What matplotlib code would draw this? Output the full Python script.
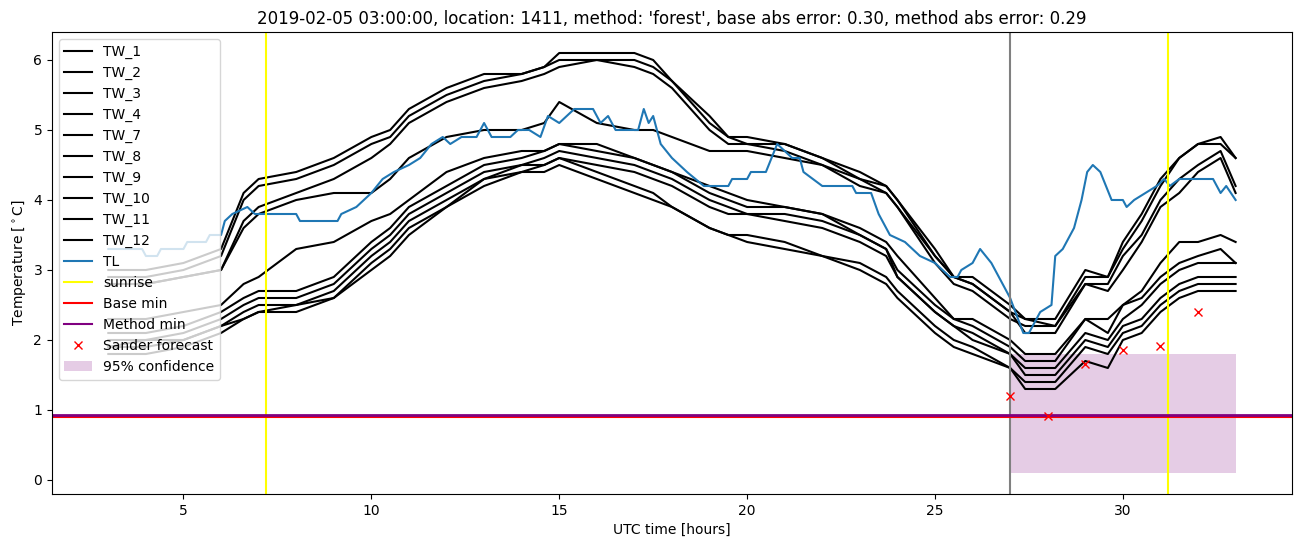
import matplotlib
matplotlib.use('Agg')
import matplotlib.pyplot as plt

tw_hours = [3, 4, 5, 6, 6.6, 7, 8, 9, 10, 10.5, 11, 12, 13, 14, 14.6, 15, 16, 17, 17.5, 18, 19, 19.5, 20, 21, 22,
            23, 23.7, 24, 25, 25.5, 26, 27, 27.4, 28.2, 29, 29.6, 30, 30.5, 31, 31.5, 32, 32.6, 33]

tw_names = ['TW_1', 'TW_2', 'TW_3', 'TW_4', 'TW_7', 'TW_8', 'TW_9', 'TW_10', 'TW_11', 'TW_12']

tw_1 = [3.0, 3.0, 3.1, 3.3, 4.1, 4.3, 4.4, 4.6, 4.9, 5.0, 5.3, 5.6, 5.8, 5.8, 5.9, 6.1, 6.1, 6.1, 6.0, 5.7, 5.2, 4.9,
        4.9, 4.8, 4.6, 4.4, 4.2, 4.0, 3.3, 2.9, 2.9, 2.5, 2.3, 2.3, 3.0, 2.9, 3.4, 3.8, 4.3, 4.6, 4.8, 4.9, 4.6]
tw_2 = [2.9, 2.9, 3.0, 3.2, 4.0, 4.2, 4.3, 4.5, 4.8, 4.9, 5.2, 5.5, 5.7, 5.8, 5.9, 6.0, 6.0, 6.0, 5.9, 5.7, 5.1, 4.9,
        4.8, 4.8, 4.6, 4.3, 4.2, 4.0, 3.2, 2.9, 2.8, 2.4, 2.3, 2.2, 2.9, 2.9, 3.3, 3.7, 4.2, 4.6, 4.8, 4.8, 4.6]
tw_3 = [2.8, 2.8, 2.9, 3.0, 3.7, 3.9, 4.1, 4.3, 4.6, 4.8, 5.1, 5.4, 5.6, 5.7, 5.8, 5.9, 6.0, 5.9, 5.8, 5.6, 5.0, 4.8,
        4.8, 4.7, 4.5, 4.3, 4.1, 3.9, 3.1, 2.8, 2.7, 2.3, 2.2, 2.2, 2.8, 2.8, 3.2, 3.5, 4.0, 4.3, 4.5, 4.7, 4.2]
tw_4 = [2.8, 2.8, 2.9, 3.0, 3.6, 3.8, 4.0, 4.1, 4.1, 4.3, 4.6, 4.9, 5.0, 5.0, 5.1, 5.4, 5.1, 5.0, 5.0, 4.9, 4.7, 4.7,
        4.7, 4.6, 4.5, 4.2, 4.1, 3.9, 3.2, 2.9, 2.8, 2.4, 2.1, 2.1, 2.8, 2.7, 3.0, 3.4, 3.9, 4.1, 4.4, 4.6, 4.1]
tw_7 = [2.3, 2.3, 2.4, 2.5, 2.8, 2.9, 3.3, 3.4, 3.7, 3.8, 4.0, 4.4, 4.6, 4.7, 4.7, 4.8, 4.8, 4.6, 4.5, 4.4, 4.2, 4.1,
        4.0, 3.9, 3.8, 3.6, 3.4, 3.2, 2.6, 2.3, 2.3, 2.0, 1.8, 1.8, 2.3, 2.3, 2.5, 2.7, 3.1, 3.4, 3.4, 3.5, 3.4]
tw_8 = [2.1, 2.1, 2.2, 2.4, 2.6, 2.7, 2.7, 2.9, 3.4, 3.6, 3.9, 4.2, 4.5, 4.6, 4.7, 4.8, 4.7, 4.6, 4.5, 4.4, 4.1, 4.0,
        3.9, 3.9, 3.8, 3.5, 3.3, 3.0, 2.5, 2.3, 2.2, 1.9, 1.7, 1.7, 2.3, 2.1, 2.5, 2.6, 2.9, 3.1, 3.2, 3.3, 3.1]
tw_9 = [2.0, 2.0, 2.1, 2.3, 2.5, 2.6, 2.6, 2.8, 3.3, 3.5, 3.8, 4.1, 4.4, 4.5, 4.6, 4.7, 4.6, 4.5, 4.4, 4.3, 4.0, 3.9,
        3.8, 3.8, 3.7, 3.5, 3.3, 2.9, 2.4, 2.2, 2.1, 1.8, 1.6, 1.6, 2.1, 2.0, 2.3, 2.5, 2.8, 3.0, 3.1, 3.1, 3.1]
tw_10 = [1.9, 2.0, 2.0, 2.2, 2.4, 2.5, 2.5, 2.7, 3.2, 3.4, 3.7, 4.0, 4.3, 4.5, 4.5, 4.6, 4.5, 4.4, 4.3, 4.2, 3.9, 3.8,
         3.8, 3.7, 3.6, 3.4, 3.2, 2.9, 2.4, 2.2, 2.0, 1.8, 1.5, 1.5, 2.0, 1.9, 2.2, 2.3, 2.6, 2.8, 2.9, 2.9, 2.9]
tw_11 = [1.9, 1.9, 2.0, 2.2, 2.3, 2.4, 2.5, 2.6, 3.1, 3.3, 3.6, 3.9, 4.3, 4.4, 4.5, 4.6, 4.4, 4.2, 4.1, 3.9, 3.6, 3.5,
         3.5, 3.4, 3.2, 3.1, 2.9, 2.7, 2.2, 2.0, 1.9, 1.6, 1.4, 1.4, 1.9, 1.8, 2.1, 2.2, 2.5, 2.7, 2.8, 2.8, 2.8]
tw_12 = [1.8, 1.8, 1.9, 2.1, 2.3, 2.4, 2.4, 2.6, 3.0, 3.2, 3.5, 3.9, 4.2, 4.4, 4.4, 4.5, 4.3, 4.1, 4.0, 3.9, 3.6, 3.5,
         3.4, 3.3, 3.2, 3.0, 2.8, 2.6, 2.1, 1.9, 1.8, 1.6, 1.3, 1.3, 1.7, 1.6, 2.0, 2.1, 2.4, 2.6, 2.7, 2.7, 2.7]
tw_values = [tw_1, tw_2, tw_3, tw_4, tw_7, tw_8, tw_9, tw_10, tw_11, tw_12]

# TL (blue) read at irregular times to keep the bumps
tl_hours = [3.0, 3.9, 4.0, 4.3, 4.4, 5.0, 5.1, 5.6, 5.7, 6.0, 6.1, 6.3, 6.7, 6.9, 8.0, 8.1, 9.1, 9.2, 9.6, 10.0, 10.3,
            10.6, 11.0, 11.3, 11.6, 11.9, 12.1, 12.4, 12.8, 13.0, 13.2, 13.7, 13.9, 14.2, 14.5, 14.7, 15.0, 15.2,
            15.4, 15.9, 16.1, 16.3, 16.5, 17.1, 17.25, 17.38, 17.5, 17.7, 18.0, 18.4, 18.85, 19.5, 19.6, 20.0, 20.1,
            20.5, 20.8, 21.2, 21.4, 21.5, 22.0, 22.8, 22.9, 23.3, 23.5, 23.8, 24.2, 24.6, 25.0, 25.4, 25.6, 25.7,
            26.0, 26.2, 26.5, 26.7, 27.0, 27.35, 27.5, 27.8, 28.1, 28.2, 28.4, 28.7, 28.9, 29.05, 29.2, 29.4, 29.7,
            30.0, 30.1, 30.3, 30.6, 30.9, 31.1, 31.25, 31.5, 31.9, 32.4, 32.6, 32.75, 33.0]
tl_values = [3.3, 3.3, 3.2, 3.2, 3.3, 3.3, 3.4, 3.4, 3.5, 3.5, 3.7, 3.8, 3.9, 3.8, 3.8, 3.7, 3.7, 3.8, 3.9, 4.1, 4.3,
             4.4, 4.5, 4.6, 4.8, 4.9, 4.8, 4.9, 4.9, 5.1, 4.9, 4.9, 5.0, 5.0, 4.9, 5.2, 5.1, 5.2,
             5.3, 5.3, 5.1, 5.2, 5.0, 5.0, 5.3, 5.1, 5.2, 4.8, 4.6, 4.4, 4.2, 4.2, 4.3, 4.3, 4.4,
             4.4, 4.8, 4.6, 4.6, 4.4, 4.2, 4.2, 4.1, 4.1, 3.8, 3.5, 3.4, 3.2, 3.1, 2.9, 2.9, 3.0,
             3.1, 3.3, 3.1, 2.9, 2.6, 2.1, 2.1, 2.4, 2.5, 3.2, 3.3, 3.6, 4.0, 4.4, 4.5, 4.4, 4.0,
             4.0, 3.9, 4.0, 4.1, 4.2, 4.3, 4.2, 4.3, 4.3, 4.3, 4.1, 4.2, 4.0]

sunrise = [7.2, 31.2]
forecast_time = 27
base_min = 0.905
method_min = 0.93

sander_hours = [27, 28, 29, 30, 31, 32]
sander_values = [1.2, 0.91, 1.65, 1.85, 1.92, 2.4]

conf_hours = [27, 33]
conf_low = 0.1
conf_high = 1.8

fig = plt.figure(figsize=(13.02, 5.47), dpi=100)
ax = fig.add_axes([0.0399, 0.0969, 0.9524, 0.8446])

for name, vals in zip(tw_names, tw_values):
    ax.plot(tw_hours, vals, color='black', label=name)
ax.plot(tl_hours, tl_values, color='C0', label='TL')

ax.axvline(sunrise[0], color='yellow', label='sunrise')
ax.axvline(sunrise[1], color='yellow')
ax.axvline(forecast_time, color='gray')
ax.axhline(base_min, color='red', label='Base min')
ax.axhline(method_min, color='purple', linewidth=2, label='Method min')
ax.plot(sander_hours, sander_values, 'x', color='red', label='Sander forecast')
ax.fill_between(conf_hours, conf_low, conf_high, color='purple', alpha=0.2, linewidth=0, label='95% confidence')

ax.set_xlabel('UTC time [hours]')
ax.set_ylabel(r'Temperature [$^\circ$C]')
ax.set_title("2019-02-05 03:00:00, location: 1411, method: 'forest', base abs error: 0.30, method abs error: 0.29")
leg = ax.legend(loc='upper left')
leg.get_lines()[13].set_linewidth(1.5)

fig.savefig('out.png', dpi=100)
